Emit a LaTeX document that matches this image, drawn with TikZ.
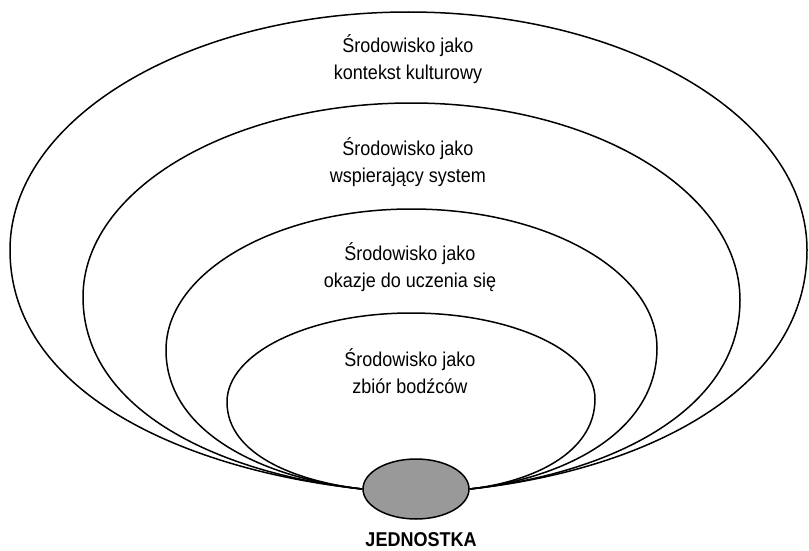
\documentclass[tikz,border=0pt]{standalone}
\usepackage{fontspec}
\setmainfont{Liberation Sans}[FakeStretch=0.9]
\usetikzlibrary{shapes.geometric,positioning}
% egg shaped ring: left x, left y, top y, right x, right y
\newcommand{\ring}[5]{%
  \draw[ringline] (jedn.west) .. controls ({363-0.5*(363-#1)},{488-0.05*(363-#1)}) and (#1,{#2+0.6*(489-#2)}) .. (#1,#2)
    .. controls (#1,{#2-0.552*(#2-#3)}) and ({(#1+#4)/2-0.552*(#4-#1)/2},#3) .. ({(#1+#4)/2},#3)
    .. controls ({(#1+#4)/2+0.552*(#4-#1)/2},#3) and (#4,{#5-0.552*(#5-#3)}) .. (#4,#5)
    .. controls (#4,{#5+0.6*(489-#5)}) and ({470+0.5*(#4-470)},{488-0.05*(#4-470)}) .. (jedn.east);}

\begin{document}
\begin{tikzpicture}[x=1pt,y=-1pt,
  ringline/.style={line width=1.5pt},
  lbl/.style={align=center,inner sep=0pt,font=\fontsize{20}{27}\selectfont}]
\useasboundingbox (0,0) rectangle (809,551);
\node (jedn) [ellipse,draw,line width=1.5pt,fill=gray!80,minimum width=106pt,minimum height=60pt,inner sep=0pt] at (416,489) {};
\node (lab) [font=\fontsize{20}{22}\selectfont\bfseries,inner sep=0pt,anchor=base] at (421,546) {JEDNOSTKA};
\ring{10}{250}{12}{807}{250}
\ring{83}{297}{103}{740}{300}
\ring{166}{350}{209}{657}{348}
\ring{227}{402}{313}{595}{399}
\node (kult) [lbl] at (408,59) {Środowisko jako\\kontekst kulturowy};
\node (wsp) [lbl] at (408,162) {Środowisko jako\\wspierający system};
\node (okaz) [lbl] at (410,267) {Środowisko jako\\okazje do uczenia się};
\node (bodz) [lbl] at (410,371) {Środowisko jako\\zbiór bodźców};
\end{tikzpicture}
\end{document}
